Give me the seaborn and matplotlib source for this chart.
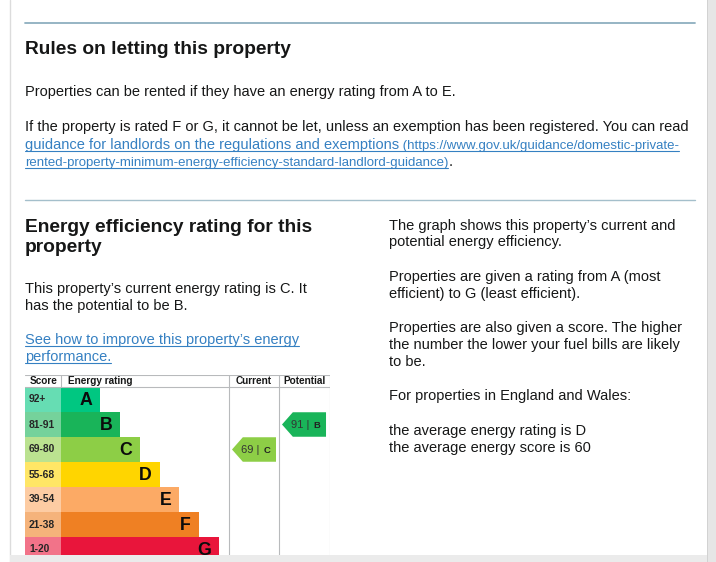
"""
EPC page snippet — rules on letting + energy efficiency rating graph.
"""

import matplotlib
matplotlib.use("Agg")
import matplotlib.pyplot as plt
from matplotlib.patches import Polygon, Rectangle
from matplotlib import colors as mcolors
import pandas as pd
import seaborn as sns

# ─── DATA ─────────────────────────────────────────────────────────────────────
bands = ["A", "B", "C", "D", "E", "F", "G"]
score_ranges = ["92+", "81-91", "69-80", "55-68", "39-54", "21-38", "1-20"]
band_length = [2, 3, 4, 5, 6, 7, 8]
band_colors = ["#00c781", "#19b459", "#8dce46", "#ffd500",
               "#fcaa65", "#ef8023", "#e9153b"]
header_labels = ["Score", "Energy rating", "Current", "Potential"]

current_score, current_band = 69, "C"
potential_score, potential_band = 91, "B"

rules_title = "Rules on letting this property"
rules_text = "Properties can be rented if they have an energy rating from A to E."
rules_text2 = ("If the property is rated F or G, it cannot be let, unless an exemption "
               "has been registered. You can read")
rules_link = "guidance for landlords on the regulations and exemptions"
rules_url1 = " (https://www.gov.uk/guidance/domestic-private-"
rules_url2 = "rented-property-minimum-energy-efficiency-standard-landlord-guidance)"

eff_title = ["Energy efficiency rating for this", "property"]
eff_text = ["This property\u2019s current energy rating is C. It",
            "has the potential to be B."]
eff_link = ["See how to improve this property\u2019s energy", "performance."]

side_text = [
    ("The graph shows this property\u2019s current and", 225),
    ("potential energy efficiency.", 241),
    ("Properties are given a rating from A (most", 276),
    ("efficient) to G (least efficient).", 293),
    ("Properties are also given a score. The higher", 327),
    ("the number the lower your fuel bills are likely", 344),
    ("to be.", 361),
    ("For properties in England and Wales:", 395),
    ("the average energy rating is D", 430),
    ("the average energy score is 60", 447),
]

# ─── STYLE ────────────────────────────────────────────────────────────────────
sns.set_style("white")
plt.rcParams["font.family"] = ["Liberation Sans", "DejaVu Sans"]

W, H = 716, 562
TXT = "#161717"
LINK = "#3580c2"
RULE = "#8eafbf"
GRID = "#b8babc"
BODY = 10.55
SMALL = 9.55
HEAD = 13.8

fig = plt.figure(figsize=(W / 100, H / 100), dpi=100)
fig.patch.set_facecolor("white")

# page layer in pixel coordinates
page = fig.add_axes([0, 0, 1, 1])
page.set_xlim(0, W)
page.set_ylim(H, 0)
page.axis("off")

page.plot([10, 10], [0, H], color="#dcdcdc", lw=1)
page.plot([25, 695], [23, 23], color=RULE, lw=1.3)
page.plot([25, 695], [200, 200], color=RULE, lw=1.0, alpha=0.8)


def put(x, y, s, size=BODY, color=TXT, weight="normal"):
    return page.text(x, y, s, fontsize=size, color=color,
                     fontweight=weight, ha="left", va="baseline")


renderer = fig.canvas.get_renderer()
inv = page.transData.inverted()


def right_of(t):
    bb = t.get_window_extent(renderer)
    return inv.transform((bb.x1, bb.y0))[0]


def underline(t, y):
    bb = t.get_window_extent(renderer)
    x0 = inv.transform((bb.x0, bb.y0))[0]
    x1 = inv.transform((bb.x1, bb.y0))[0]
    page.plot([x0, x1], [y + 2, y + 2], color=LINK, lw=0.8)


put(25, 54, rules_title, size=HEAD, weight="bold")
put(25, 96, rules_text)
put(25, 131, rules_text2)
t1 = put(25, 149, rules_link, color=LINK)
underline(t1, 149)
t2 = put(right_of(t1), 149, rules_url1, size=SMALL, color=LINK)
underline(t2, 149)
t3 = put(25, 166, rules_url2, size=SMALL, color=LINK)
underline(t3, 166)
put(right_of(t3), 166, ".")

put(25, 232, eff_title[0], size=HEAD, weight="bold")
put(25, 252, eff_title[1], size=HEAD, weight="bold")
put(25, 293, eff_text[0])
put(25, 310, eff_text[1])
for s, y in zip(eff_link, [344, 361]):
    t = put(25, y, s, color=LINK)
    underline(t, y)

for s, y in side_text:
    put(389, y + 5, s)

# ─── ENERGY RATING GRAPH ──────────────────────────────────────────────────────
UNIT = 19.7          # px per band step
ROW = 25.0           # px per band row
x_left = -36 / UNIT
x_cur = (229 - 61) / UNIT
x_pot = (279 - 61) / UNIT
x_right = (330 - 61) / UNIT
y_top = -0.5 - 12 / ROW

ax = fig.add_axes([25 / W, 0, 305 / W, 187 / H])
df = pd.DataFrame({"band": bands, "length": band_length})
sns.barplot(data=df, x="length", y="band", hue="band",
            palette=dict(zip(bands, band_colors)), orient="h",
            width=1.0, saturation=1, legend=False, linewidth=0, ax=ax)

light = [tuple(0.6 * c + 0.4 for c in mcolors.to_rgb(col)) for col in band_colors]
ax.barh(range(len(bands)), -x_left, left=x_left, height=1.0,
        color=light, linewidth=0)

for i, (b, ln, sr) in enumerate(zip(bands, band_length, score_ranges)):
    ax.text(ln - 0.4, i + 0.05, b, ha="right", va="center",
            fontsize=12.8, fontweight="bold", color="#0b0c0c")
    ax.text(x_left + 0.2, i, sr, ha="left", va="center",
            fontsize=7.4, fontweight="bold", color="#262626")

# header
y_head = (y_top - 0.5) / 2
ax.text(x_left + 0.22, y_head, header_labels[0], ha="left", va="center",
        fontsize=7.2, fontweight="bold", color=TXT)
ax.text(0.35, y_head, header_labels[1], ha="left", va="center",
        fontsize=7.2, fontweight="bold", color=TXT)
ax.text((x_cur + x_pot) / 2, y_head, header_labels[2], ha="center",
        va="center", fontsize=7.2, fontweight="bold", color=TXT)
ax.text((x_pot + x_right) / 2, y_head, header_labels[3], ha="center",
        va="center", fontsize=7.2, fontweight="bold", color=TXT)

# table lines
line_kw = dict(color=GRID, lw=0.8, zorder=3)
ax.plot([x_left, x_right], [y_top, y_top], **line_kw)
ax.plot([x_left, x_right], [-0.5, -0.5], **line_kw)
ax.plot([0, 0], [y_top, -0.5], **line_kw)
for xv in (x_cur, x_pot, x_right - 0.02):
    ax.plot([xv, xv], [y_top, len(bands) - 0.5], **line_kw)


def rating_arrow(x0, x1, score, band):
    row = bands.index(band)
    col = band_colors[row]
    tip, h = 0.55, 0.49
    pts = [(x0, row), (x0 + tip, row - h), (x1, row - h),
           (x1, row + h), (x0 + tip, row + h)]
    ax.add_patch(Polygon(pts, closed=True, fc=col, ec="none", zorder=4))
    ax.text(x0 + 0.45, row + 0.03, f"{score} |", ha="left", va="center",
            fontsize=8, color="#333333", zorder=5)
    ax.text(x1 - 0.28, row + 0.05, band, ha="right", va="center",
            fontsize=6.8, fontweight="bold", color="#222222", zorder=5)


pad = 3 / UNIT
rating_arrow(x_cur + pad, x_pot - pad, current_score, current_band)
rating_arrow(x_pot + pad, x_right - pad - 0.05, potential_score, potential_band)

ax.set_xlim(x_left, x_right)
ax.set_ylim(len(bands) - 0.5, y_top)
ax.axis("off")

# browser chrome strips
fig.patches.append(Rectangle((707 / W, 0), 9 / W, 1, transform=fig.transFigure,
                             fc="#e6e6e6", ec="none", zorder=10))
fig.patches.append(Rectangle((707 / W, 0), 1 / W, 1, transform=fig.transFigure,
                             fc="#d2d2d2", ec="none", zorder=11))
fig.patches.append(Rectangle((10 / W, 0), 697 / W, 7 / H, transform=fig.transFigure,
                             fc="#ebebeb", ec="none", zorder=10))

fig.savefig("out.png", dpi=100, facecolor="white")
